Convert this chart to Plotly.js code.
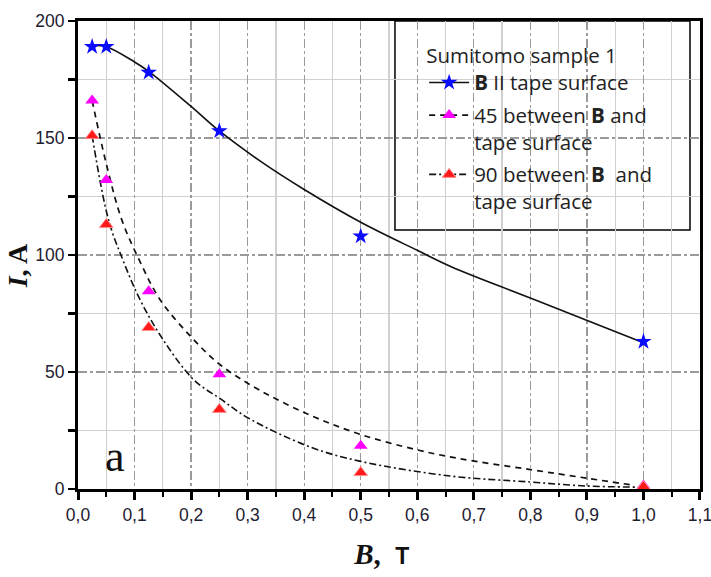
<!DOCTYPE html>
<html><head><meta charset="utf-8">
<script src="https://cdn.plot.ly/plotly-3.0.1.min.js"></script>
<style>html,body{margin:0;padding:0;background:#fff}</style>
</head><body><div id="chart" style="width:711px;height:577px"></div>
<script>
// measured points
const fieldB = [0.025, 0.05, 0.125, 0.25, 0.5, 1.0];
const currentParallel = [189, 189, 178, 153, 108, 63];
const current45 = [166, 132, 84.5, 49, 18.5, 1.5];
const current90 = [151, 113, 69, 34, 7, 1];

// fitted curves
const fitParallelB = [0.025, 0.05, 0.1, 0.125, 0.2, 0.25, 0.323, 0.4, 0.5, 0.6, 0.66, 0.8, 1.0];
const fitParallelI = [189.5, 189, 182.5, 178.5, 163.5, 153, 140, 128, 114, 102, 95, 81.6, 62.5];
const fit45B = [0.025, 0.05, 0.0775, 0.11, 0.1455, 0.2, 0.252, 0.32, 0.41, 0.5, 0.6, 0.672, 0.8, 0.9, 0.98];
const fit45I = [166, 139, 115, 97, 80.8, 65, 53, 42.4, 31.6, 23.3, 16.7, 13.1, 8.3, 4.6, 1.7];
const fit90B = [0.025, 0.054, 0.08, 0.11, 0.15, 0.205, 0.252, 0.3, 0.41, 0.5, 0.66, 0.8, 0.897, 0.99];
const fit90I = [151, 115, 97.5, 80.8, 64, 46.6, 38.5, 30.5, 18, 11.8, 5.5, 3.0, 1.3, 0.8];

const legendTitle = 'Sumitomo sample 1';
const seriesNames = [
  '<b>B</b> II tape surface',
  '45 between <b>B</b> and<br>tape surface',
  '90 between <b>B</b>  and<br>tape surface'
];

const solidLine = {color: '#111', width: 1.6};
const dashLine = {color: '#111', width: 1.7, dash: '6px,5px'};
const dashDotLine = {color: '#111', width: 1.6, dash: '7px,3px,2px,3px'};
const starMarker = {symbol: 'star', size: 12.5, color: '#0a0aff'};
const magMarker = {symbol: 'triangle-up', size: 12, color: '#ff00ff'};
const redMarker = {symbol: 'triangle-up', size: 12, color: '#ff1a1a', line: {color: '#ff9090', width: 1}};

const traces = [
  {x: fitParallelB, y: fitParallelI, mode: 'lines', line: Object.assign({shape: 'spline'}, solidLine), showlegend: false, hoverinfo: 'skip'},
  {x: fit45B, y: fit45I, mode: 'lines', line: Object.assign({shape: 'spline'}, dashLine), showlegend: false, hoverinfo: 'skip'},
  {x: fit90B, y: fit90I, mode: 'lines', line: Object.assign({shape: 'spline'}, dashDotLine), showlegend: false, hoverinfo: 'skip'},
  {x: fieldB, y: currentParallel, mode: 'markers', marker: starMarker, showlegend: false, cliponaxis: false},
  {x: fieldB, y: current45, mode: 'markers', marker: magMarker, showlegend: false, cliponaxis: false},
  {x: fieldB, y: current90, mode: 'markers', marker: redMarker, showlegend: false, cliponaxis: false},
  // legend entries
  {x: [null], y: [null], mode: 'lines+markers', name: seriesNames[0], legendgroup: 'g1', line: solidLine, marker: starMarker},
  {x: [null], y: [null], mode: 'lines+markers', name: seriesNames[1], legendgroup: 'g2', line: dashLine, marker: magMarker},
  {x: [null], y: [null], mode: 'lines+markers', name: seriesNames[2], legendgroup: 'g3', line: dashDotLine, marker: redMarker}
];

const tickFont = {family: '"Liberation Sans", Arial, sans-serif', size: 17.5, color: '#1e2030'};
const sp = '&nbsp;';

const layout = {
  width: 711, height: 577,
  margin: {l: 78, r: 11, t: 21, b: 88},
  paper_bgcolor: '#fff', plot_bgcolor: '#fff',
  separators: ', ',
  showlegend: true,
  xaxis: {
    range: [0, 1.10001], dtick: 0.1, tick0: 0, tickformat: '.1f',
    showline: true, linewidth: 3, linecolor: '#000', mirror: true,
    ticks: 'outside', ticklen: 8, tickwidth: 3, tickcolor: '#000',
    showgrid: true, gridcolor: '#9a9a9a', gridwidth: 1.3, griddash: 'dashdot',
    minor: {dtick: 0.05, ticks: 'outside', ticklen: 5, tickwidth: 2, tickcolor: '#000', showgrid: true, gridcolor: '#d0d0d0', gridwidth: 1.3, griddash: 'solid'},
    zeroline: false, tickfont: tickFont, automargin: false, ticklabeloverflow: 'allow',
    title: {text: '<b><i>B</i>,</b>  <b><span style="font-family:\'Liberation Sans\', sans-serif;font-size:23px">T</span></b>' + sp + sp, font: {family: '"Liberation Serif", serif', size: 29, color: '#111'}, standoff: 20}
  },
  yaxis: {
    range: [0, 200], dtick: 50, tick0: 0,
    showline: true, linewidth: 3, linecolor: '#000', mirror: true,
    ticks: 'outside', ticklen: 7, tickwidth: 2.5, tickcolor: '#000',
    showgrid: true, gridcolor: '#9a9a9a', gridwidth: 1.3, griddash: 'dashdot',
    minor: {dtick: 25, ticks: 'outside', ticklen: 7, tickwidth: 2.5, tickcolor: '#000', showgrid: true, gridcolor: '#d0d0d0', gridwidth: 1.3, griddash: 'solid'},
    zeroline: false, tickfont: tickFont, automargin: false,
    title: {text: '<b><i>I</i>, A</b>' + sp + sp + sp, font: {family: '"Liberation Serif", serif', size: 28, color: '#111'}, standoff: 0}
  },
  legend: {
    x: 0.5565, y: 0.968, xanchor: 'left', yanchor: 'top',
    bgcolor: 'rgba(0,0,0,0)', borderwidth: 0,
    font: {family: '"Open Sans", sans-serif', size: 20.5, color: '#222'},
    title: {text: legendTitle, font: {family: '"Open Sans", sans-serif', size: 20.5, color: '#222'}},
    valign: 'top', itemwidth: 40, tracegroupgap: 3
  },
  shapes: [
    {type: 'rect', xref: 'paper', yref: 'paper', x0: 0.5096, x1: 0.9839, y0: 0.5534, y1: 1, layer: 'between', fillcolor: '#fff', line: {color: '#000', width: 1.5}}
  ],
  annotations: [
    {x: 0.0657, y: 13.7, xref: 'x', yref: 'y', text: 'a', showarrow: false, font: {family: '"Liberation Serif", serif', size: 44, color: '#111'}}
  ]
};

Plotly.newPlot('chart', traces, layout, {displayModeBar: false, staticPlot: true});
</script></body></html>
